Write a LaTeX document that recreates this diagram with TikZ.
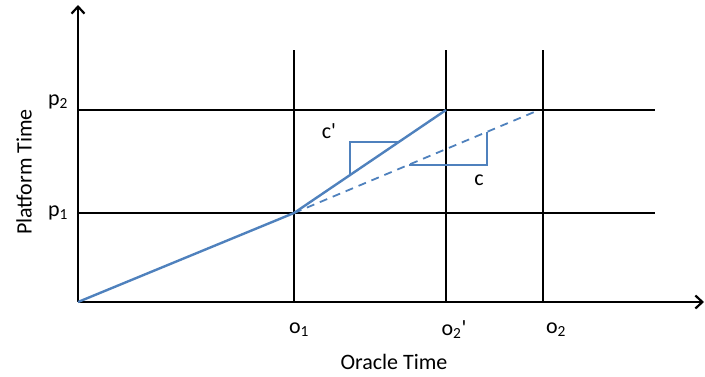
\documentclass[tikz,border=0pt]{standalone}
\usepackage{fontspec}
\setmainfont{Carlito}
\usetikzlibrary{arrows.meta}
\definecolor{lineblue}{RGB}{79,129,189}
\begin{document}
\begin{tikzpicture}[x=1pt, y=-1pt, every node/.style={font=\fontsize{22}{26}\selectfont}]
        \tikzstyle{grid} = [line width=2.2pt, black]
        \tikzstyle{curve} = [line width=2.4pt, lineblue]
        \tikzstyle{slope} = [line width=1.6pt, lineblue]
        \useasboundingbox (0, 0) rectangle (705, 376);
        % axes
        \coordinate (O) at (78, 302);
        \coordinate (ytop) at (78, 5);
        \coordinate (xend) at (704, 302);
        \draw[grid, -{Straight Barb[length=7pt, width=13pt]}] (O) -- (ytop);
        \draw[grid, -{Straight Barb[length=7pt, width=13pt]}] (O) -- (xend);
        % grid lines
        \coordinate (P1) at (294, 213);
        \coordinate (P2) at (446, 110);
        \coordinate (D) at (539, 110);
        \draw[grid] (78, 110) -- (655, 110);
        \draw[grid] (78, 213) -- (655, 213);
        \draw[grid] (294, 50) -- (294, 302);
        \draw[grid] (446, 50) -- (446, 302);
        \draw[grid] (543, 50) -- (543, 302);
        % time lines
        \draw[curve] (O) -- (P1) -- (P2);
        \draw[curve, dash pattern=on 8pt off 6pt, line width=1.8pt] (P1) -- (D);
        \draw[slope] (350, 175) -- (350, 142) -- (399, 142);
        \draw[slope] (409, 165) -- (487, 165) -- (487, 132);
        % labels
        \node (cp) at (329, 131) {c\textquotesingle};
        \node (c) at (479, 180) {c};
        \node (p2) at (58, 102) {p\textsubscript{2}};
        \node (p1) at (58, 213) {p\textsubscript{1}};
        \node (o1) at (299, 330) {o\textsubscript{1}};
        \node (o2p) at (454, 330) {o\textsubscript{2}\textquotesingle};
        \node (o2) at (556, 330) {o\textsubscript{2}};
        \node (xlab) at (394, 362) {Oracle Time};
        \node[rotate=90] (ylab) at (24, 172) {Platform Time};
      \end{tikzpicture}
\end{document}
